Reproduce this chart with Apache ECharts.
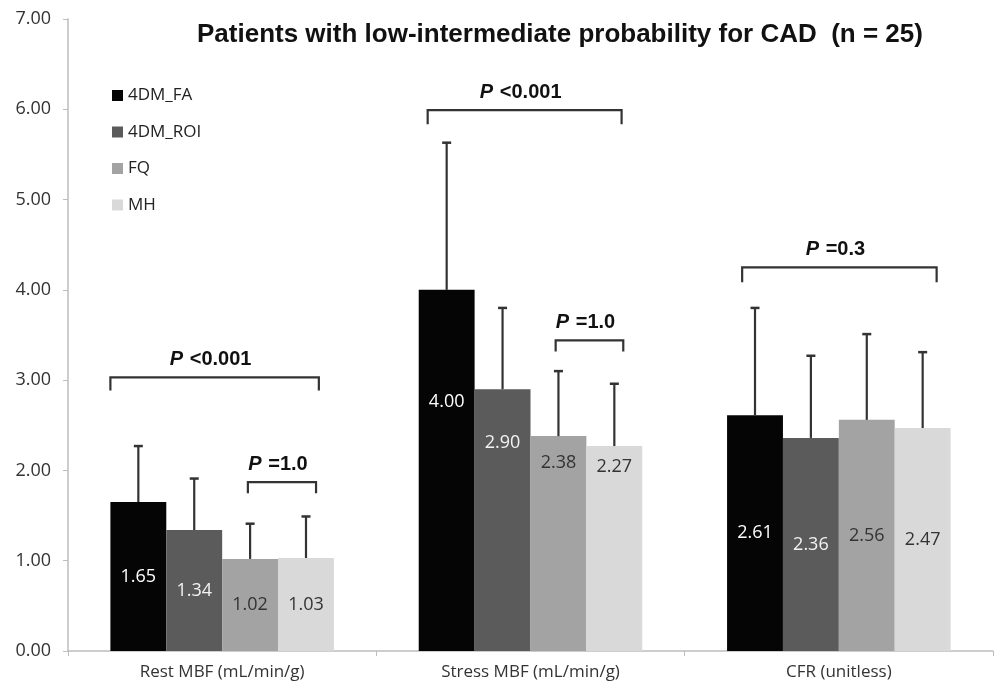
<!DOCTYPE html>
<html><head><meta charset="utf-8">
<script src="https://cdn.jsdelivr.net/npm/echarts@6/dist/echarts.min.js"></script>
<style>html,body{margin:0;padding:0;background:#fff}#c{width:995px;height:689px}</style>
</head><body><div id="c"></div>
<script>
// ---- data ----
const categories = ['Rest MBF (mL/min/g)', 'Stress MBF (mL/min/g)', 'CFR (unitless)'];
const seriesNames = ['4DM_FA', '4DM_ROI', 'FQ', 'MH'];
const faValues  = [1.65, 4.00, 2.61];
const roiValues = [1.34, 2.90, 2.36];
const fqValues  = [1.02, 2.38, 2.56];
const mhValues  = [1.03, 2.27, 2.47];
const faSD  = [0.62, 1.63, 1.19];
const roiSD = [0.57, 0.90, 0.91];
const fqSD  = [0.39, 0.72, 0.95];
const mhSD  = [0.46, 0.69, 0.84];
const yMin = 0, yMax = 7, yStep = 1;
// significance brackets: category, level (data value), p-text
const bracketCats   = [0, 0, 1, 1, 2];
const bracketLevels = [3.03, 1.87, 5.99, 3.44, 4.25];
const bracketTexts  = ['<0.001', '=1.0', '<0.001', '=1.0', '=0.3'];

// ---- styling ----
const colors = ['#050505', '#5b5b5b', '#a3a3a3', '#d9d9d9'];
const labelColors = ['#ffffff', '#f2f2f2', '#333333', '#333333'];
const bracketFrom = [0.0, 2.46, 0.16, 2.45, 0.27];
const bracketTo   = [3.73, 3.68, 3.63, 3.66, 3.75];
const bracketLeg  = [13, 11, 14, 11, 15];
const stressLabelPos = ['31%', '20.6%', '12.6%', '10%'];
const GAP = 0.275;
const FONT = 'Open Sans';

const allValues = [faValues, roiValues, fqValues, mhValues];
const allSD = [faSD, roiSD, fqSD, mhSD];

const chart = echarts.init(document.getElementById('c'));

const barSeries = seriesNames.map((name, i) => ({
  name,
  type: 'bar',
  barGap: '0%',
  barCategoryGap: (GAP * 100) + '%',
  itemStyle: { color: colors[i] },
  z: 2,
  label: {
    show: true, position: 'inside', color: labelColors[i],
    fontFamily: FONT, fontSize: 18,
    formatter: p => p.value.toFixed(2)
  },
  data: allValues[i].map((v, k) => k === 1 ? {
    value: v,
    label: { position: ['50%', stressLabelPos[i]], align: 'center', verticalAlign: 'middle' }
  } : v)
}));

const errSeries = seriesNames.map((name, i) => ({
  name: name + '_err',
  type: 'custom',
  z: 3,
  silent: true,
  renderItem: (params, api) => {
    const cat = api.value(0), mean = api.value(1), sd = api.value(2);
    const band = api.size([1, 0])[0];
    const groupW = band * (1 - GAP);
    const slot = groupW / 4;
    const base = api.coord([cat, mean]);
    const top = api.coord([cat, mean + sd]);
    const x = base[0] - groupW / 2 + (i + 0.5) * slot;
    return {
      type: 'group',
      children: [
        { type: 'line', shape: { x1: x, y1: base[1], x2: x, y2: top[1] }, style: { stroke: '#333', lineWidth: 2.2 } },
        { type: 'line', shape: { x1: x - 4.5, y1: top[1], x2: x + 4.5, y2: top[1] }, style: { stroke: '#333', lineWidth: 2.5 } }
      ]
    };
  },
  data: allValues[i].map((v, k) => [k, v, allSD[i][k]])
}));

const bracketSeries = {
  name: 'brackets',
  type: 'custom',
  z: 4,
  silent: true,
  renderItem: (params, api) => {
    const idx = params.dataIndex;
    const cat = api.value(0), level = api.value(1);
    const band = api.size([1, 0])[0];
    const groupW = band * (1 - GAP);
    const slot = groupW / 4;
    const c = api.coord([cat, level]);
    const left = c[0] - groupW / 2;
    const x0 = left + bracketFrom[idx] * slot;
    const x1 = left + bracketTo[idx] * slot;
    const y = c[1];
    const leg = bracketLeg[idx];
    return {
      type: 'group',
      children: [
        { type: 'polyline', shape: { points: [[x0, y + leg], [x0, y], [x1, y], [x1, y + leg]] },
          style: { stroke: '#333', lineWidth: 2.2, fill: null } },
        { type: 'text', x: (x0 + x1) / 2 - 4, y: y - 18,
          style: {
            text: '{p|P}  {t|' + bracketTexts[idx] + '}',
            align: 'center', verticalAlign: 'middle',
            rich: {
              p: { fontFamily: 'Liberation Sans', fontWeight: 'bold', fontStyle: 'italic', fontSize: 20, fill: '#111' },
              t: { fontFamily: 'Liberation Sans', fontWeight: 'bold', fontSize: 20, fill: '#111' }
            }
          } }
      ]
    };
  },
  data: bracketCats.map((c, k) => [c, bracketLevels[k]])
};

chart.setOption({
  animation: false,
  backgroundColor: '#ffffff',
  title: {
    text: 'Patients with low-intermediate probability for CAD  (n = 25)',
    left: 192, top: 17,
    textStyle: { fontFamily: 'Liberation Sans', fontWeight: 'bold', fontSize: 26, color: '#111' }
  },
  legend: {
    data: seriesNames,
    orient: 'vertical',
    left: 107, top: 82,
    itemWidth: 11, itemHeight: 11,
    itemGap: 19.5,
    icon: 'rect',
    textStyle: { fontFamily: FONT, fontSize: 17, lineHeight: 17, color: '#222' }
  },
  grid: { left: 68, right: 2, top: 19, bottom: 38, containLabel: false },
  xAxis: {
    type: 'category',
    data: categories,
    axisLine: { lineStyle: { color: '#bdbdbd', width: 1.5 } },
    axisTick: { show: true, length: 5, lineStyle: { color: '#bdbdbd' } },
    axisLabel: { fontFamily: FONT, fontSize: 17, color: '#333', margin: 13 }
  },
  yAxis: {
    type: 'value',
    min: yMin, max: yMax, interval: yStep,
    splitLine: { show: false },
    axisLine: { show: true, lineStyle: { color: '#bdbdbd', width: 1.5 } },
    axisTick: { show: true, length: 5, lineStyle: { color: '#bdbdbd' } },
    axisLabel: { fontFamily: FONT, fontSize: 18, color: '#333', margin: 17, formatter: v => v.toFixed(2) }
  },
  series: [...barSeries, ...errSeries, bracketSeries]
});
</script>
</body></html>
